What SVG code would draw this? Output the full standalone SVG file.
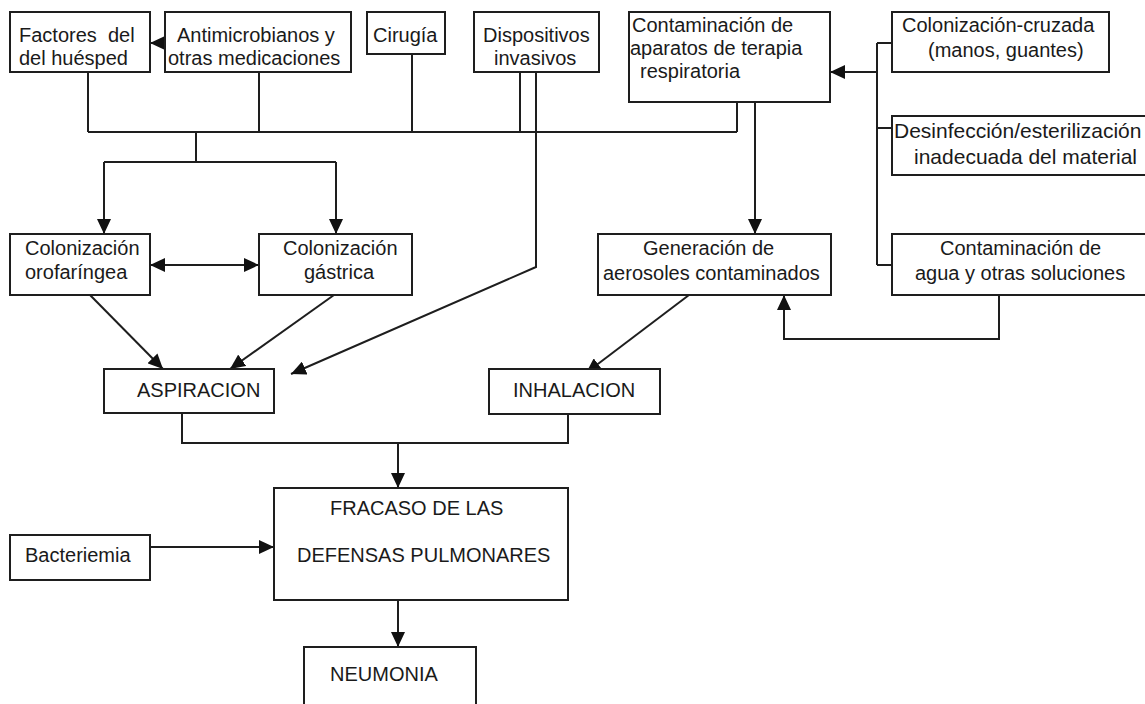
<svg xmlns="http://www.w3.org/2000/svg" width="1145" height="704" viewBox="0 0 1145 704">
<style>
  .box { fill: #ffffff; stroke: #1e1e1e; stroke-width: 2; }
  .t { font-family: "Liberation Sans", Arial, sans-serif; font-size: 20px; fill: #1a1a1a; }
  .tl { font-size: 21px; }
  .c { fill: none; stroke: #1e1e1e; stroke-width: 2; }
  .a { marker-end: url(#ah); }
</style>
<defs>
  <marker id="ah" viewBox="0 0 15 14" refX="15" refY="7" markerWidth="15" markerHeight="14" markerUnits="userSpaceOnUse" orient="auto-start-reverse">
    <path d="M0,0 L15,7 L0,14 z" fill="#111"/>
  </marker>
</defs>
<rect width="1145" height="704" fill="#ffffff"/>

<g id="connectors">
  <path class="c a" d="M165,43 L150,43"/>
  <path class="c" d="M88,72 V132 M259,72 V132 M412,54 V132 M520,72 V132 M737,102 V132 M88,132 H737"/>
  <path class="c" d="M196,132 V162 M104,162 H336"/>
  <path class="c a" d="M104,162 V234"/>
  <path class="c a" d="M336,162 V234"/>
  <path class="c a" d="M150,265 H259" marker-start="url(#ah)"/>
  <path class="c a" d="M536,72 V267 L291,374"/>
  <path class="c a" d="M90,295 L163,369"/>
  <path class="c a" d="M334,295 L230,369"/>
  <path class="c a" d="M755,102 V234"/>
  <path class="c" d="M877,43 V265 M877,43 H892 M877,128 H892 M877,265 H892"/>
  <path class="c a" d="M877,72 H830"/>
  <path class="c a" d="M999,295 V339 H784 V295"/>
  <path class="c a" d="M689,295 L586,373"/>
  <path class="c" d="M182,413 V443 H568 V414"/>
  <path class="c a" d="M398,443 V488"/>
  <path class="c a" d="M150,547 H274"/>
  <path class="c a" d="M398,600 V647"/>
</g>

<g id="factores">
  <rect class="box" x="10" y="12" width="140" height="60"/>
  <text class="t" x="19" y="42" xml:space="preserve">Factores  del</text>
  <text class="t" x="19" y="65">del huésped</text>
</g>
<g id="antimicrobianos">
  <rect class="box" x="165" y="12" width="186" height="60"/>
  <text class="t" x="177" y="42">Antimicrobianos y</text>
  <text class="t" x="168" y="65">otras medicaciones</text>
</g>
<g id="cirugia">
  <rect class="box" x="367" y="12" width="78" height="42"/>
  <text class="t" x="373" y="42">Cirugía</text>
</g>
<g id="dispositivos">
  <rect class="box" x="474" y="12" width="125" height="60"/>
  <text class="t" x="483" y="42">Dispositivos</text>
  <text class="t" x="494" y="65">invasivos</text>
</g>
<g id="contaminacion-aparatos">
  <rect class="box" x="629" y="12" width="201" height="90"/>
  <text class="t" x="632" y="32">Contaminación de</text>
  <text class="t" x="630" y="55">aparatos de terapia</text>
  <text class="t" x="640" y="78">respiratoria</text>
</g>
<g id="colonizacion-cruzada">
  <rect class="box" x="892" y="12" width="217" height="60"/>
  <text class="t" x="902" y="32">Colonización-cruzada</text>
  <text class="t" x="928" y="57">(manos, guantes)</text>
</g>
<g id="desinfeccion">
  <rect class="box" x="892" y="116" width="260" height="59"/>
  <text class="t tl" x="894" y="138">Desinfección/esterilización</text>
  <text class="t tl" x="914" y="164">inadecuada del material</text>
</g>
<g id="colonizacion-orofaringea">
  <rect class="box" x="10" y="234" width="140" height="61"/>
  <text class="t" x="25" y="255">Colonización</text>
  <text class="t" x="25" y="279">orofaríngea</text>
</g>
<g id="colonizacion-gastrica">
  <rect class="box" x="259" y="234" width="153" height="61"/>
  <text class="t" x="283" y="255">Colonización</text>
  <text class="t" x="304" y="279">gástrica</text>
</g>
<g id="generacion">
  <rect class="box" x="598" y="234" width="233" height="61"/>
  <text class="t" x="643" y="255">Generación de</text>
  <text class="t" x="603" y="280">aerosoles contaminados</text>
</g>
<g id="contaminacion-agua">
  <rect class="box" x="892" y="234" width="260" height="61"/>
  <text class="t" x="940" y="255">Contaminación de</text>
  <text class="t" x="915" y="280">agua y otras soluciones</text>
</g>
<g id="aspiracion">
  <rect class="box" x="104" y="369" width="170" height="44"/>
  <text class="t" x="137" y="397">ASPIRACION</text>
</g>
<g id="inhalacion">
  <rect class="box" x="489" y="369" width="171" height="45"/>
  <text class="t" x="513" y="397">INHALACION</text>
</g>
<g id="fracaso">
  <rect class="box" x="274" y="488" width="294" height="112"/>
  <text class="t" x="330" y="515">FRACASO DE LAS</text>
  <text class="t" x="297" y="562">DEFENSAS PULMONARES</text>
</g>
<g id="bacteriemia">
  <rect class="box" x="10" y="535" width="140" height="45"/>
  <text class="t" x="25" y="562">Bacteriemia</text>
</g>
<g id="neumonia">
  <rect class="box" x="304" y="647" width="172" height="70"/>
  <text class="t" x="330" y="681">NEUMONIA</text>
</g>
</svg>
